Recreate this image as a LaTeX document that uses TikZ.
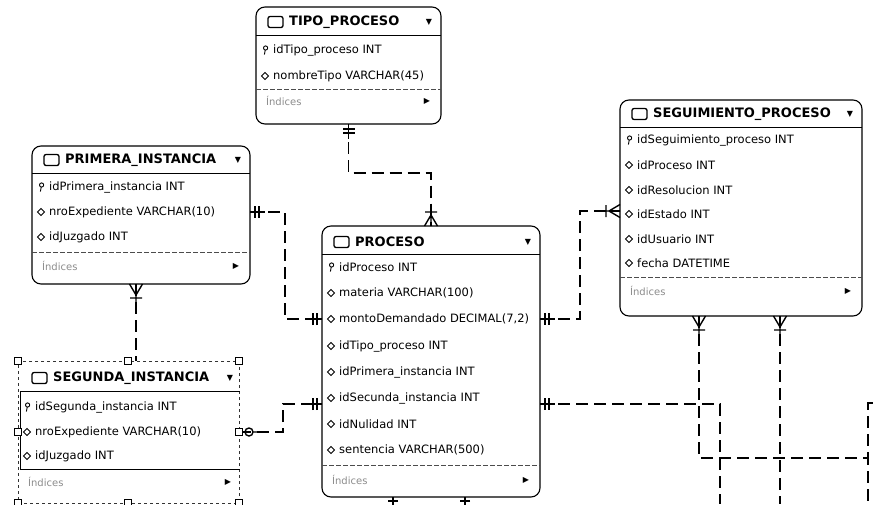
\documentclass[tikz,border=0pt]{standalone}
\usepackage{fontspec}
\setmainfont{DejaVu Sans}
\usetikzlibrary{calc}

% one column row of a table: name, left edge, y, icon pic, text
\newcommand\erfield[5]{%
  \pic at (#2+9,#3) {#4};
  \node[fieldtxt] (#1) at (#2+17,#3) {#5};
}
% table header: name, left edge, right edge, y, title
\newcommand\erhead[5]{%
  \pic at (#2+12,#4) {tblicon};
  \node[titletxt] (#1) at (#2+33,#4) {#5};
  \node[glyph] (#1-menu) at (#3-12,#4) {▼};
}
% index row: name, left edge, right edge, y
\newcommand\erindex[4]{%
  \node[idxtxt] (#1) at (#2+10,#4) {Índices};
  \node[glyph] (#1-more) at (#3-14,#4) {▶};
}

\begin{document}
\begin{tikzpicture}[x=1pt,y=-1pt,
  tblbox/.style={draw=black,line width=1.1pt,rounded corners=9pt,fill=white,anchor=north west,inner sep=0pt,outer sep=0pt},
  selbox/.style={draw=black!80,line width=0.6pt,dash pattern=on 3pt off 3pt,anchor=north west,inner sep=0pt,outer sep=0pt},
  titletxt/.style={anchor=west,inner sep=0pt,font=\fontsize{13}{13}\selectfont\bfseries},
  fieldtxt/.style={anchor=west,inner sep=0pt,font=\fontsize{11.5}{12}\selectfont},
  idxtxt/.style={anchor=west,inner sep=0pt,font=\fontsize{10}{10}\selectfont,text=black!45},
  glyph/.style={inner sep=0pt,font=\fontsize{8}{8}\selectfont},
  hdrline/.style={line width=1pt},
  idxline/.style={line width=0.7pt,black!70,dash pattern=on 5pt off 2pt},
  rel/.style={line width=1.8pt,dash pattern=on 12pt off 6pt},
  endmk/.style={line width=1.4pt,solid},
  handle/.style={draw=black,line width=0.9pt,fill=white},
  pkicon/.pic={\draw[line width=0.9pt] (0.6,-2) circle (2.1pt); \draw[line width=0.9pt] (0.2,0.2)--(-0.6,4.5);},
  fkicon/.pic={\draw[line width=0.9pt] (-3.4,0)--(0,-3.4)--(3.4,0)--(0,3.4)--cycle;},
  tblicon/.pic={\draw[line width=1.3pt,rounded corners=2pt] (0,-5.5) rectangle (15,5.5);},
  oneone/.pic={\draw[endmk] (0,0)--(15,0) (5,-6)--(5,6) (9,-6)--(9,6);},
  manyone/.pic={\draw[endmk] (0,-6.5)--(11,0)--(0,6.5) (0,0)--(18,0) (14,-6)--(14,6);},
  zeroend/.pic={\draw[endmk] (10,0) circle (4pt) (14,0)--(22,0);},
  onebar/.pic={\draw[endmk] (0,0)--(8,0) (4,-5)--(4,5);},
]
\fill[white] (0,0) rectangle (873,504);
\useasboundingbox (0,0) rectangle (873,504);

% ---------- TIPO_PROCESO ----------
\node[tblbox,minimum width=185pt,minimum height=117pt] (tipo) at (256,7) {};
\erhead{tipo-t}{256}{441}{22}{TIPO\_PROCESO}
\draw[hdrline] (256,35)--(441,35);
\erfield{tipo-f1}{256}{50}{pkicon}{idTipo\_proceso INT}
\erfield{tipo-f2}{256}{76}{fkicon}{nombreTipo VARCHAR(45)}
\draw[idxline] (256,89)--(441,89);
\erindex{tipo-i}{256}{441}{101}

% ---------- PRIMERA_INSTANCIA ----------
\node[tblbox,minimum width=218pt,minimum height=138pt] (primera) at (32,146) {};
\erhead{primera-t}{32}{250}{160}{PRIMERA\_INSTANCIA}
\draw[hdrline] (32,173)--(250,173);
\erfield{primera-f1}{32}{187}{pkicon}{idPrimera\_instancia INT}
\erfield{primera-f2}{32}{212}{fkicon}{nroExpediente VARCHAR(10)}
\erfield{primera-f3}{32}{237}{fkicon}{idJuzgado INT}
\draw[idxline] (32,252)--(250,252);
\erindex{primera-i}{32}{250}{266}

% ---------- PROCESO ----------
\node[tblbox,minimum width=218pt,minimum height=271pt] (proceso) at (322,226) {};
\erhead{proceso-t}{322}{540}{242}{PROCESO}
\draw[hdrline] (322,254)--(540,254);
\erfield{proceso-f1}{322}{267}{pkicon}{idProceso INT}
\erfield{proceso-f2}{322}{293}{fkicon}{materia VARCHAR(100)}
\erfield{proceso-f3}{322}{319}{fkicon}{montoDemandado DECIMAL(7,2)}
\erfield{proceso-f4}{322}{346}{fkicon}{idTipo\_proceso INT}
\erfield{proceso-f5}{322}{372}{fkicon}{idPrimera\_instancia INT}
\erfield{proceso-f6}{322}{398}{fkicon}{idSecunda\_instancia INT}
\erfield{proceso-f7}{322}{424}{fkicon}{idNulidad INT}
\erfield{proceso-f8}{322}{450}{fkicon}{sentencia VARCHAR(500)}
\draw[idxline] (322,465)--(540,465);
\erindex{proceso-i}{322}{540}{480}

% ---------- SEGUIMIENTO_PROCESO ----------
\node[tblbox,minimum width=242pt,minimum height=216pt] (seguim) at (620,100) {};
\erhead{seguim-t}{620}{862}{114}{SEGUIMIENTO\_PROCESO}
\draw[hdrline] (620,127)--(862,127);
\erfield{seguim-f1}{620}{140}{pkicon}{idSeguimiento\_proceso INT}
\erfield{seguim-f2}{620}{165}{fkicon}{idProceso INT}
\erfield{seguim-f3}{620}{190}{fkicon}{idResolucion INT}
\erfield{seguim-f4}{620}{214}{fkicon}{idEstado INT}
\erfield{seguim-f5}{620}{239}{fkicon}{idUsuario INT}
\erfield{seguim-f6}{620}{263}{fkicon}{fecha DATETIME}
\draw[idxline] (620,277)--(862,277);
\erindex{seguim-i}{620}{862}{291}

% ---------- SEGUNDA_INSTANCIA (selected) ----------
\node[selbox,minimum width=221pt,minimum height=142pt] (segunda) at (18,361) {};
\erhead{segunda-t}{20}{242}{378}{SEGUNDA\_INSTANCIA}
\draw[hdrline] (20,391)--(240,391) (20,391)--(20,469) (20,469)--(240,469);
\erfield{segunda-f1}{18}{407}{pkicon}{idSegunda\_instancia INT}
\erfield{segunda-f2}{18}{432}{fkicon}{nroExpediente VARCHAR(10)}
\erfield{segunda-f3}{18}{456}{fkicon}{idJuzgado INT}
\erindex{segunda-i}{18}{242}{482}

% ---------- relationships ----------
\coordinate (lvlA) at (0,404);
\coordinate (lvlB) at (0,211);
\coordinate (pf) at ($(primera.south west)+(104,0)$);
\coordinate (sgf1) at ($(seguim.south west)+(79,0)$);
\coordinate (sgf2) at ($(seguim.south west)+(160,0)$);
\coordinate (pb1) at ($(proceso.south west)+(71,0)$);
\coordinate (pb2) at ($(proceso.south west)+(143,0)$);
\coordinate (jC) at (868,458);
\coordinate (offA) at (720,504);
\coordinate (offB) at (868,504);
\coordinate (offC) at (780,504);
\coordinate (offD) at (873,403);
\coordinate (offE) at (393,510);
\coordinate (offF) at (465,510);

% PRIMERA_INSTANCIA -> SEGUNDA_INSTANCIA
\draw[rel] (pf) -- (pf |- segunda.north);
\pic[rotate=-90] at (pf) {manyone};

% TIPO_PROCESO -> PROCESO
\draw[rel] (tipo.south) -- ++(0,49) -| (proceso.north);
\pic[rotate=-90] at (tipo.south) {oneone};
\pic[rotate=90] at (proceso.north) {manyone};

% PRIMERA_INSTANCIA -> PROCESO
\draw[rel] (primera.east |- primera-f2) -- ++(35,0) |- (proceso.west |- proceso-f3);
\pic at (primera.east |- primera-f2) {oneone};
\pic[rotate=180] at (proceso.west |- proceso-f3) {oneone};

% SEGUNDA_INSTANCIA -> PROCESO
\draw[rel] (segunda.east) -- ++(44,0) |- (proceso.west |- lvlA);
\pic at (segunda.east) {zeroend};
\pic[rotate=180] at (proceso.west |- lvlA) {oneone};

% PROCESO -> SEGUIMIENTO_PROCESO
\draw[rel] (proceso.east |- proceso-f3) -- ++(40,0) |- (seguim.west |- lvlB);
\pic at (proceso.east |- proceso-f3) {oneone};
\pic[rotate=180] at (seguim.west |- lvlB) {manyone};

% PROCESO -> tables further down
\draw[rel] (proceso.east |- lvlA) -| (offA);
\pic at (proceso.east |- lvlA) {oneone};
\draw[rel] (pb1) -- (offE);
\draw[rel] (pb2) -- (offF);
\pic[rotate=-90] at (pb1) {onebar};
\pic[rotate=-90] at (pb2) {onebar};

% SEGUIMIENTO_PROCESO -> tables further down
\draw[rel] (sgf1) |- (jC) -- (offB);
\pic[rotate=-90] at (sgf1) {manyone};
\draw[rel] (sgf2) -- (offC);
\pic[rotate=-90] at (sgf2) {manyone};
\draw[rel] (offD) -| (jC);

% selection handles
\foreach \hx/\hy in {18/361,128/361,239/361,18/432,239/432,18/503,128/503,239/503}
  \draw[handle] (\hx-3.5,\hy-3.5) rectangle ++(7,7);
\end{tikzpicture}
\end{document}
